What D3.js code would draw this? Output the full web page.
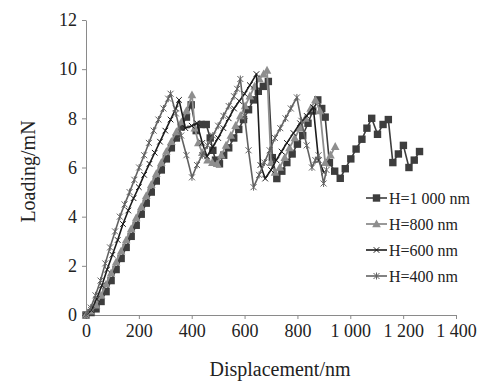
<!DOCTYPE html>
<html>
<head>
<meta charset="utf-8">
<script src="https://cdn.jsdelivr.net/npm/d3@7"></script>
<style>
  body { margin: 0; background: #fff; }
  svg { display: block; }
  svg text { font-family: "Liberation Serif", "Times New Roman", serif; }
</style>
</head>
<body>
<div id="chart"></div>
<script>
// series data: [displacement nm, load mN]
const h1000 = [[0,0],[19,0.1],[38,0.25],[57,0.55],[76,0.95],[95,1.4],[114,1.85],[133,2.3],[152,2.75],[171,3.2],[190,3.65],[209,4.1],[228,4.55],[247,5.0],[266,5.45],[285,5.9],[304,6.35],[323,6.8],[342,7.2],[361,7.65],[380,8.05],[398,8.55],[417,7.5],[436,7.75],[455,7.75],[470,7.2],[480,6.7],[490,6.3],[505,6.15],[521,6.5],[540,6.8],[559,7.2],[578,7.55],[596,7.95],[615,8.35],[634,8.75],[652,9.1],[671,9.3],[690,9.5],[705,6.4],[722,5.55],[741,5.85],[760,6.2],[780,6.55],[800,6.95],[820,7.3],[840,7.8],[858,8.3],[877,8.75],[892,8.4],[905,8.05],[921,6.2],[941,5.85],[962,5.56],[981,5.95],[1002,6.35],[1022,6.75],[1044,7.15],[1063,7.6],[1081,8.0],[1103,7.35],[1124,7.75],[1144,7.95],[1161,6.2],[1182,6.55],[1201,6.9],[1222,6.0],[1242,6.3],[1262,6.65]];
const h800 = [[0,0],[19,0.15],[38,0.4],[57,0.8],[76,1.25],[95,1.7],[114,2.15],[133,2.6],[152,3.05],[171,3.5],[190,3.95],[209,4.4],[228,4.85],[247,5.3],[266,5.75],[285,6.2],[304,6.65],[323,7.05],[342,7.45],[361,7.85],[380,8.3],[401,8.95],[412,7.6],[425,7.0],[440,6.6],[460,6.3],[478,6.2],[496,6.15],[512,6.5],[530,6.9],[548,7.3],[566,7.7],[584,8.1],[602,8.5],[620,8.9],[638,9.3],[656,9.6],[672,9.8],[685,9.95],[700,6.2],[715,5.8],[733,6.0],[752,6.4],[770,6.8],[790,7.2],[810,7.6],[830,8.0],[850,8.4],[868,8.75],[885,8.3],[905,6.2],[925,6.5],[943,6.85]];
const h600 = [[0,0],[20,0.2],[40,0.65],[60,1.2],[80,1.85],[100,2.45],[120,3.05],[140,3.7],[160,4.25],[180,4.75],[200,5.2],[220,5.7],[240,6.15],[260,6.6],[280,7.05],[300,7.5],[320,7.95],[340,8.4],[352,8.75],[376,7.6],[400,7.7],[420,7.8],[440,7.0],[458,6.45],[480,6.85],[500,7.2],[520,7.6],[540,8.0],[560,8.4],[580,8.7],[600,9.0],[620,9.35],[645,9.8],[660,6.1],[678,5.55],[700,5.9],[720,6.3],[740,6.65],[760,7.0],[785,7.4],[810,7.8],[835,8.1],[860,8.45],[880,6.3],[900,5.8]];
const h400 = [[0,0],[18,0.3],[36,0.8],[55,1.4],[73,2.1],[91,2.75],[110,3.4],[128,4.0],[146,4.5],[165,5.0],[183,5.5],[201,6.0],[220,6.5],[238,7.0],[256,7.5],[274,7.95],[293,8.4],[311,8.8],[320,9.0],[340,8.2],[360,7.3],[380,6.5],[401,5.6],[420,6.1],[440,6.5],[460,6.9],[480,7.3],[500,7.7],[520,8.1],[540,8.5],[560,8.9],[572,9.2],[584,9.6],[600,8.1],[615,6.7],[634,5.2],[655,5.7],[675,6.2],[695,6.7],[715,7.2],[735,7.6],[755,8.0],[775,8.4],[798,8.85],[815,7.9],[835,6.9],[855,6.0],[868,6.3],[880,6.5],[899,5.35],[910,5.9]];

const seriesNames = ["H=1 000 nm", "H=800 nm", "H=600 nm", "H=400 nm"];
const xTicks = [0, 200, 400, 600, 800, 1000, 1200, 1400];
const yTicks = [0, 2, 4, 6, 8, 10, 12];

const width = 489, height = 383;
const margin = { top: 20, right: 33, bottom: 68, left: 86 };
const serif = '"Liberation Serif", "Times New Roman", serif';

const series = [
  { name: seriesNames[0], data: h1000, color: '#3d3d3d', marker: 'square', lw: 1.6 },
  { name: seriesNames[1], data: h800, color: '#8e8e8e', marker: 'triangle', lw: 1.8 },
  { name: seriesNames[2], data: h600, color: '#1c1c1c', marker: 'cross', lw: 1.6 },
  { name: seriesNames[3], data: h400, color: '#626262', marker: 'star', lw: 1.6 }
];

const svg = d3.select('#chart').append('svg')
  .attr('width', width)
  .attr('height', height)
  .attr('font-family', serif);

const xScale = d3.scaleLinear().domain([0, 1400]).range([margin.left, width - margin.right]);
const yScale = d3.scaleLinear().domain([0, 12]).range([height - margin.bottom, margin.top]);

const fmt = (d) => d3.format(",")(d).replace(",", " ");

const xAxis = svg.append('g')
  .attr('transform', `translate(0,${height - margin.bottom})`)
  .call(d3.axisBottom(xScale).tickValues(xTicks).tickFormat(fmt).tickSize(4).tickPadding(5).tickSizeOuter(0));

const yAxis = svg.append('g')
  .attr('transform', `translate(${margin.left},0)`)
  .call(d3.axisLeft(yScale).tickValues(yTicks).tickSize(4).tickPadding(5).tickSizeOuter(0));

[xAxis, yAxis].forEach(a => {
  a.attr('font-family', serif).attr('font-size', 18);
  a.select('.domain').attr('stroke', '#8a8a8a');
  a.selectAll('.tick line').attr('stroke', '#8a8a8a');
  a.selectAll('.tick text')
    .attr('fill', '#222')
    .attr('font-family', serif)
    .style('font-family', serif)
    .style('font-size', '18px');
});

svg.append('text')
  .attr('x', (margin.left + width - margin.right) / 2 + 9)
  .attr('y', 376)
  .attr('text-anchor', 'middle')
  .attr('fill', '#222')
  .style('font-size', '20px')
  .text('Displacement/nm');

svg.append('text')
  .attr('transform', `translate(28,${(margin.top + height - margin.bottom) / 2 + 4}) rotate(-90)`)
  .attr('text-anchor', 'middle')
  .attr('dy', '0.35em')
  .attr('fill', '#222')
  .style('font-size', '20px')
  .text('Loading/mN');

function drawMarker(g, type, color, x, y) {
  if (type === 'square') {
    g.append('rect').attr('x', x - 3.7).attr('y', y - 3.7).attr('width', 7.4).attr('height', 7.4).attr('fill', color);
  } else if (type === 'triangle') {
    g.append('path').attr('d', `M${x},${y - 4.6}L${x + 4.3},${y + 3.3}L${x - 4.3},${y + 3.3}Z`).attr('fill', color);
  } else if (type === 'cross') {
    g.append('path').attr('d', `M${x - 2.8},${y - 2.8}L${x + 2.8},${y + 2.8}M${x - 2.8},${y + 2.8}L${x + 2.8},${y - 2.8}`)
      .attr('stroke', color).attr('stroke-width', 1);
  } else {
    g.append('path').attr('d', `M${x - 3},${y - 3}L${x + 3},${y + 3}M${x - 3},${y + 3}L${x + 3},${y - 3}M${x},${y - 3.5}L${x},${y + 3.5}`)
      .attr('stroke', color).attr('stroke-width', 1);
  }
}

const line = d3.line().x(d => xScale(d[0])).y(d => yScale(d[1]));

series.forEach(s => {
  const g = svg.append('g');
  g.append('path')
    .datum(s.data)
    .attr('d', line)
    .attr('fill', 'none')
    .attr('stroke', s.color)
    .attr('stroke-width', s.lw)
    .attr('stroke-linejoin', 'round');
  s.data.forEach(d => drawMarker(g, s.marker, s.color, xScale(d[0]), yScale(d[1])));
});

// legend
const legendX = 366, legendY = 198, legendStep = 26;
series.forEach((s, i) => {
  const y = legendY + i * legendStep;
  const g = svg.append('g');
  g.append('line').attr('x1', legendX).attr('x2', legendX + 21).attr('y1', y).attr('y2', y)
    .attr('stroke', s.color).attr('stroke-width', s.lw);
  drawMarker(g, s.marker, s.color, legendX + 10.5, y);
  g.append('text').attr('x', legendX + 23).attr('y', y).attr('dy', '0.35em')
    .attr('fill', '#222').style('font-size', '16px').text(s.name);
});
</script>
</body>
</html>
